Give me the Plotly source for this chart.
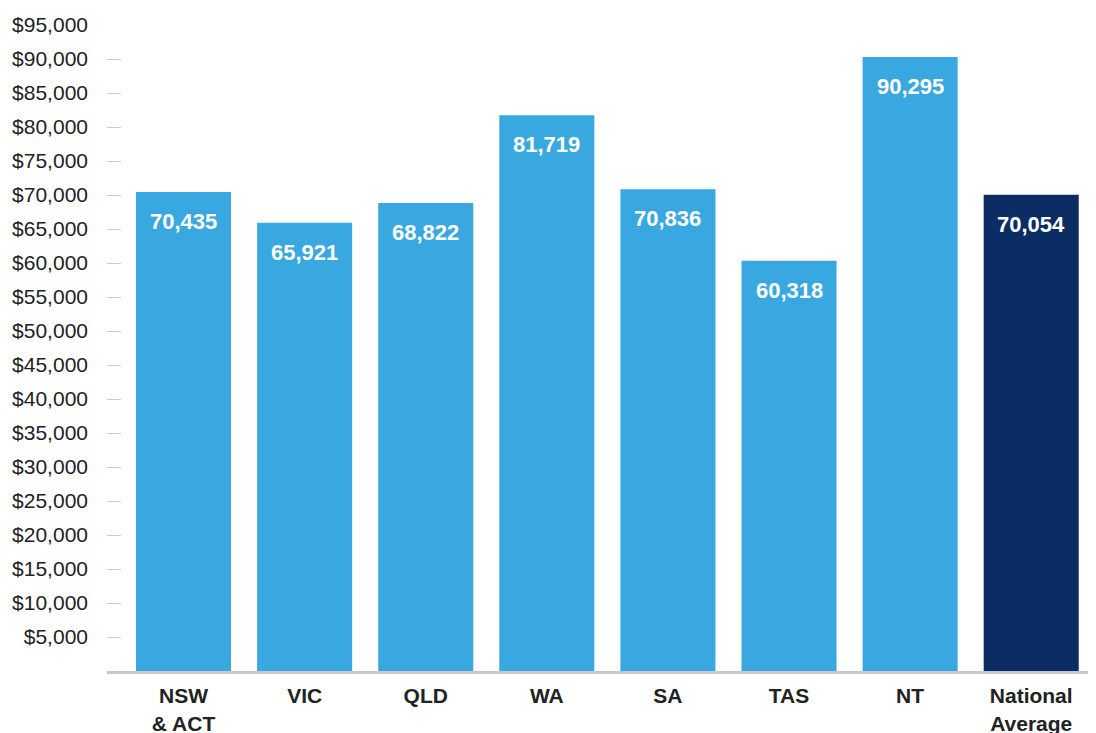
import plotly.graph_objects as go

categories = ["NSW<br>& ACT", "VIC", "QLD", "WA", "SA", "TAS", "NT", "National<br>Average"]
values = [70435, 65921, 68822, 81719, 70836, 60318, 90295, 70054]
bar_colors = ["#3AA8E0"] * 7 + ["#0B2D63"]
y_ticks = list(range(5000, 95001, 5000))
y_ticktext = [f"${v:,}" for v in y_ticks]

x_idx = list(range(len(categories)))

fig = go.Figure()
fig.add_trace(go.Bar(
    x=x_idx, y=values, marker=dict(color=bar_colors, line=dict(width=0)),
    hoverinfo="skip",
))

for i, v in zip(x_idx, values):
    fig.add_annotation(
        x=i, y=v, xref="x", yref="y", text=f"{v:,}", showarrow=False,
        yanchor="top", yshift=-15,
        font=dict(family="Liberation Sans, Arial, sans-serif", size=22, color="white", weight="bold"),
    )

# page body has an 8px default margin; compensate so the plot sits as in the reference
fig.update_layout(
    width=1088, height=725,
    margin=dict(l=99, r=0, t=17, b=62),
    paper_bgcolor="white", plot_bgcolor="white",
    showlegend=False,
    bargap=0.215,
    font=dict(family="Liberation Sans, Arial, sans-serif", color="#222222"),
)
fig.update_xaxes(
    range=[-0.632, 7.535],
    tickmode="array", tickvals=x_idx, ticktext=categories,
    tickfont=dict(size=21, color="#222222", weight="bold"),
    ticklabelstandoff=4,
    showline=True, linecolor="#C8C8C8", linewidth=3,
    showgrid=False, zeroline=False, ticks="",
    automargin=False,
)
fig.update_yaxes(
    range=[0, 95000],
    tickmode="array", tickvals=y_ticks, ticktext=y_ticktext,
    tickfont=dict(size=21, color="#222222"),
    ticks="inside", ticklen=14, tickcolor="#CCCCCC", tickwidth=1,
    ticklabelstandoff=18,
    showline=False, showgrid=False, zeroline=False,
    automargin=False,
)

fig.write_html("out.html")
